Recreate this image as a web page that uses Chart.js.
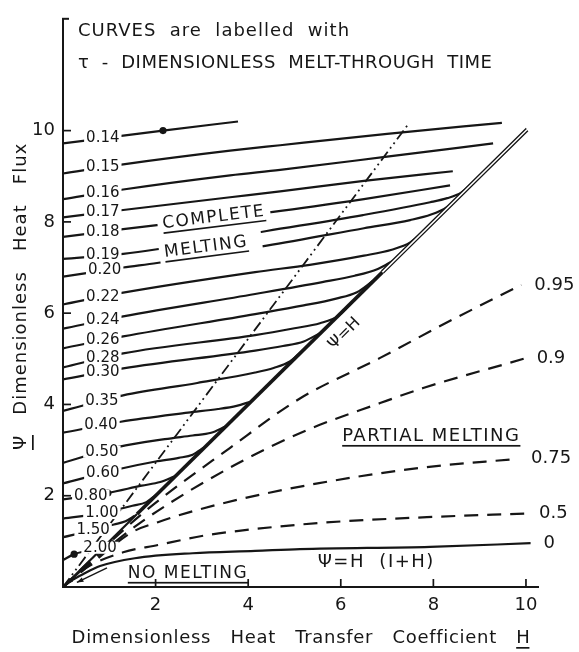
<!DOCTYPE html>
<html>
<head>
<meta charset="utf-8">
<title>Melt-through time</title>
<script src="https://cdn.jsdelivr.net/npm/chart.js"></script>
<style>
  body { margin: 0; background: #fff; }
  #meltChart { display: block; }
</style>
</head>
<body>
<canvas id="meltChart" width="579" height="652"></canvas>
<script>
// complete melting curves, labelled with tau; points are [H, Psi]
const tauLabels = ['0.14', '0.15', '0.16', '0.17', '0.18', '0.19', '0.20', '0.22', '0.24', '0.26',
                   '0.28', '0.30', '0.35', '0.40', '0.50', '0.60', '0.80', '1.00', '1.50', '2.00'];
const tau014 = [[0, 9.72], [1.3, 9.89], [2.16, 10.0], [3.78, 10.2]];
const tau015 = [[0, 9.06], [1.3, 9.26], [3.61, 9.56], [4.69, 9.68], [7.0, 9.93], [9.48, 10.17]];
const tau016 = [[0, 8.50], [1.3, 8.71], [3.61, 9.02], [4.69, 9.14], [7.0, 9.43], [9.29, 9.72]];
const tau017 = [[0, 8.10], [1.3, 8.26], [3.61, 8.54], [4.69, 8.67], [6.5, 8.9], [8.42, 9.11]];
const tau018 = [[0, 7.67], [1.3, 7.84], [2.03, 7.93], [4.54, 8.22], [6.5, 8.5], [8.36, 8.80]];
const tau019 = [[0, 7.19], [1.3, 7.30], [2.03, 7.40], [4.4, 7.80], [6.48, 8.15], [7.93, 8.43], [8.3, 8.52], [8.6, 8.64], [8.9, 8.9]];
const tau020 = [[0, 6.80], [1.3, 7.0], [2.03, 7.1], [4.4, 7.48], [6.5, 7.86], [7.5, 8.04], [7.95, 8.16], [8.3, 8.33], [8.6, 8.6]];
const tau022 = [[0, 6.19], [1.3, 6.45], [4.15, 6.9], [5.33, 7.06], [6.5, 7.26], [7.1, 7.39], [7.5, 7.55], [7.85, 7.86]];
const tau024 = [[0, 5.66], [1.3, 5.93], [4.15, 6.42], [5.6, 6.68], [6.3, 6.82], [6.8, 6.97], [7.15, 7.16]];
const tau026 = [[0, 5.23], [1.3, 5.49], [4.15, 5.98], [5.2, 6.17], [5.9, 6.32], [6.35, 6.46], [6.7, 6.71]];
const tau028 = [[0, 4.81], [1.3, 5.12], [4.15, 5.52], [5.0, 5.67], [5.55, 5.78], [5.95, 5.94], [6.25, 6.25]];
const tau030 = [[0, 4.55], [1.3, 4.79], [4.15, 5.18], [4.75, 5.28], [5.2, 5.38], [5.55, 5.56]];
const tau035 = [[0, 3.86], [1.3, 4.2], [2.9, 4.47], [4.15, 4.7], [4.55, 4.8], [4.9, 4.94], [5.15, 5.16]];
const tau040 = [[0, 3.38], [1.25, 3.62], [2.7, 3.82], [3.35, 3.9], [3.75, 3.97], [4.05, 4.06]];
const tau050 = [[0, 2.72], [1.2, 3.07], [2.2, 3.24], [2.8, 3.32], [3.2, 3.38], [3.5, 3.51]];
const tau060 = [[0, 2.27], [1.19, 2.58], [2.0, 2.75], [2.5, 2.83], [2.8, 2.9], [3.05, 3.06]];
const tau080 = [[0, 1.92], [0.6, 2.0], [0.97, 2.06], [1.7, 2.22], [2.1, 2.3], [2.4, 2.42]];
const tau100 = [[0, 1.50], [0.84, 1.62], [1.5, 1.78], [1.8, 1.86], [2.0, 2.01]];
const tau150 = [[0, 1.09], [0.65, 1.25], [1.1, 1.37], [1.35, 1.44], [1.55, 1.56]];
const tau200 = [[0, 0.59], [0.24, 0.72], [0.55, 0.8], [0.8, 0.86], [0.95, 0.96]];
const tauCurves = [tau014, tau015, tau016, tau017, tau018, tau019, tau020, tau022, tau024, tau026,
                   tau028, tau030, tau035, tau040, tau050, tau060, tau080, tau100, tau150, tau200];

// partial melting curves (dashed), the 0 curve is solid
const partialLabels = ['0.95', '0.9', '0.75', '0.5', '0'];
const partial095 = [[0, 0], [0.8, 0.78], [1.8, 1.68], [3.61, 3.05], [5.1, 4.12], [6.85, 5.02], [8.3, 5.8], [9.9, 6.62]];
const partial090 = [[0, 0], [0.8, 0.72], [1.8, 1.5], [3.76, 2.7], [5.3, 3.45], [6.85, 4.03], [7.78, 4.36], [9.95, 5.0]];
const partial075 = [[0, 0], [0.6, 0.5], [1.49, 1.2], [2.05, 1.42], [2.7, 1.63], [3.89, 1.94], [5.5, 2.27], [7.71, 2.61], [9.83, 2.81]];
const partial050 = [[0, 0], [0.5, 0.42], [1.3, 0.76], [2.05, 0.92], [3.07, 1.13], [3.71, 1.22], [5.5, 1.4], [7.86, 1.53], [10.0, 1.61]];
const noMelting = [[0, 0], [0.2, 0.15], [0.43, 0.28], [0.8, 0.46], [1.55, 0.63], [2.8, 0.74], [4.15, 0.79], [5.12, 0.83], [7.93, 0.88], [10.1, 0.96]];

// psi = H line and the dash-dot line
const psiHThin = [[0, 0], [1.6, 1.6]];
const psiHThick = [[1.6, 1.6], [6.9, 6.9]];
const psiHDouble = [[6.9, 6.9], [10.02, 10.02]];
const dashDotLine = [[0, 0], [7.45, 10.13]];
const curveDots = [[2.16, 10.0], [0.97, 2.06], [0.24, 0.72]];
const originArrows = [[[0.55, 0.5], [0.08, 0.06]], [[0.95, 0.42], [0.3, 0.1]]];

const xTickValues = [2, 4, 6, 8, 10];
const yTickValues = [2, 4, 6, 8, 10];

// layout of the texts (not data)
const tauLabelAt = [0.86, 0.86, 0.86, 0.86, 0.86, 0.86, 0.9, 0.86, 0.86, 0.86,
                    0.86, 0.86, 0.84, 0.82, 0.84, 0.86, 0.6, 0.84, 0.65, 0.8];
const notes = [
  { text: 'COMPLETE', x: 2.16, y: 7.86, angle: -7, size: 17, underline: true, bg: true },
  { text: 'MELTING', x: 2.2, y: 7.23, angle: -7.4, size: 17, underline: true, bg: true, extra: 9 },
  { text: 'PARTIAL MELTING', x: 6.03, y: 3.2, angle: 0, size: 18, underline: true },
  { text: 'NO MELTING', x: 1.4, y: 0.2, angle: 0, size: 17, underline: true },
  { text: 'Ψ=H  (I+H)', x: 5.5, y: 0.44, angle: 0, size: 18 }
];

const ink = '#161616';
const FAM = '"DejaVu Sans", sans-serif';

function pts(arr) { return arr.map(([x, y]) => ({ x, y })); }
function curve(arr, extra) {
  return Object.assign({
    data: pts(arr), showLine: true, pointRadius: 0, borderColor: ink, borderWidth: 2.2,
    fill: false, cubicInterpolationMode: 'monotone', order: 10
  }, extra || {});
}
function interp(c, xv) {
  for (let i = 1; i < c.length; i++) {
    if (xv <= c[i][0]) {
      const t = (xv - c[i - 1][0]) / (c[i][0] - c[i - 1][0]);
      return c[i - 1][1] + t * (c[i][1] - c[i - 1][1]);
    }
  }
  return c[c.length - 1][1];
}

function drawText(ctx, s, x, y, o) {
  ctx.save();
  ctx.translate(x, y);
  if (o.angle) ctx.rotate(o.angle * Math.PI / 180);
  ctx.font = o.font;
  ctx.letterSpacing = o.spacing || '0px';
  ctx.textAlign = o.align || 'left';
  ctx.textBaseline = o.baseline || 'alphabetic';
  const w = ctx.measureText(s).width;
  const x0 = o.align === 'center' ? -w / 2 : 0;
  if (o.bg) {
    ctx.fillStyle = '#fff';
    ctx.fillRect(x0 - o.bg[0], o.bg[1], w + o.bg[0] + (o.bg[3] || o.bg[0]), o.bg[2]);
  }
  ctx.fillStyle = ink;
  ctx.fillText(s, 0, 0);
  if (o.underline !== undefined) ctx.fillRect(x0, o.underline, o.ulen || w, 1.7);
  ctx.restore();
  return w;
}

function line(ctx, x1, y1, x2, y2, w) {
  ctx.beginPath();
  ctx.moveTo(x1, y1);
  ctx.lineTo(x2, y2);
  ctx.lineWidth = w || 2;
  ctx.strokeStyle = ink;
  ctx.stroke();
}

const annotate = {
  id: 'annotate',
  afterDatasetsDraw(chart) {
    const { ctx, chartArea: a, scales: { x, y } } = chart;
    const px = v => x.getPixelForValue(v), py = v => y.getPixelForValue(v);

    // inward tick marks
    xTickValues.forEach(v => line(ctx, px(v), a.bottom, px(v), a.bottom - 8, 1.7));
    yTickValues.forEach(v => line(ctx, a.left, py(v), a.left + 8, py(v), 1.7));
    line(ctx, a.left - 1, a.top, a.left + 6, a.top, 2);

    // arrows towards the origin
    originArrows.forEach(([p, q]) => {
      const x1 = px(p[0]), y1 = py(p[1]), x2 = px(q[0]), y2 = py(q[1]);
      line(ctx, x1, y1, x2, y2, 1.4);
      const ang = Math.atan2(y2 - y1, x2 - x1);
      ctx.beginPath();
      ctx.moveTo(x2, y2);
      ctx.lineTo(x2 - 7 * Math.cos(ang - 0.35), y2 - 7 * Math.sin(ang - 0.35));
      ctx.lineTo(x2 - 7 * Math.cos(ang + 0.35), y2 - 7 * Math.sin(ang + 0.35));
      ctx.closePath();
      ctx.fillStyle = ink;
      ctx.fill();
    });

    // tau labels sitting on their curves
    tauCurves.forEach((c, i) => {
      const lx = tauLabelAt[i];
      drawText(ctx, tauLabels[i], px(lx), py(interp(c, lx)), {
        font: '15px ' + FAM, align: 'center', baseline: 'middle', bg: [2, -6, 12]
      });
    });

    // right-hand labels of the partial melting curves
    [partial095, partial090, partial075, partial050, noMelting].forEach((c, i) => {
      const last = c[c.length - 1];
      drawText(ctx, partialLabels[i], px(last[0]) + 13, py(last[1]), {
        font: '18px ' + FAM, baseline: 'middle'
      });
    });

    // region notes
    notes.forEach(n => {
      drawText(ctx, n.text, px(n.x), py(n.y), {
        font: n.size + 'px ' + FAM, angle: n.angle, spacing: '1.5px',
        underline: n.underline ? 4 : undefined,
        bg: n.bg ? [5, -15, 22, (n.extra || 0) + 5] : null
      });
    });

    // psi = H along the line
    drawText(ctx, 'Ψ=H', px(6.08), py(5.55), { font: '16px ' + FAM, angle: -45, align: 'center', baseline: 'middle' });

    // heading
    drawText(ctx, 'CURVES  are  labelled  with', 78, 36, { font: '18px ' + FAM, spacing: '1px' });
    drawText(ctx, 'τ  -  DIMENSIONLESS  MELT-THROUGH  TIME', 78, 68, { font: '18px ' + FAM, spacing: '0.5px' });

    // axis titles
    const xt = 'Dimensionless   Heat   Transfer   Coefficient   H';
    ctx.save();
    ctx.font = '18px ' + FAM;
    ctx.letterSpacing = '0.7px';
    const xw = ctx.measureText(xt).width;
    const hw = ctx.measureText('H').width;
    ctx.restore();
    drawText(ctx, xt, 301 - xw / 2, 643, { font: '18px ' + FAM, spacing: '0.7px' });
    ctx.fillStyle = ink;
    ctx.fillRect(301 + xw / 2 - hw, 647, hw - 1, 1.7);

    drawText(ctx, 'Ψ   Dimensionless   Heat   Flux', 26, 450, {
      font: '18px ' + FAM, angle: -90, spacing: '1px', underline: 6, ulen: 15
    });
  }
};

const datasets = [];
tauCurves.forEach(c => datasets.push(curve(c)));
[partial095, partial090, partial075, partial050].forEach(c =>
  datasets.push(curve(c, { borderDash: [14, 9] })));
datasets.push(curve(noMelting));
datasets.push(curve(dashDotLine, { borderWidth: 1.8, borderDash: [11, 4, 1.8, 4, 1.8, 4], cubicInterpolationMode: 'default' }));
datasets.push(curve(psiHThin, { borderWidth: 2.2 }));
datasets.push(curve(psiHThick, { borderWidth: 3.6 }));
datasets.push(curve(psiHDouble, { borderWidth: 4.2 }));
datasets.push(curve(psiHDouble, { borderWidth: 1.5, borderColor: '#fff', order: 0 }));
datasets.push({ data: pts(curveDots), showLine: false, pointRadius: 3.6, pointBackgroundColor: ink, pointBorderWidth: 0, order: 1 });

new Chart(document.getElementById('meltChart'), {
  type: 'scatter',
  data: { datasets },
  options: {
    responsive: false,
    animation: false,
    layout: { padding: { left: 0, right: 41, top: 15, bottom: 0 } },
    plugins: { legend: { display: false }, tooltip: { enabled: false } },
    scales: {
      x: {
        type: 'linear', min: 0, max: 10.26,
        afterFit: s => { s.height = 65; },
        afterBuildTicks: s => { s.ticks = xTickValues.map(v => ({ value: v })); },
        grid: { display: false, drawTicks: false },
        border: { color: ink, width: 2 },
        ticks: { color: ink, font: { family: FAM, size: 18 }, padding: 8 }
      },
      y: {
        type: 'linear', min: 0, max: 12.45,
        afterFit: s => { s.width = 63; },
        afterBuildTicks: s => { s.ticks = yTickValues.map(v => ({ value: v })); },
        grid: { display: false, drawTicks: false },
        border: { color: ink, width: 2 },
        ticks: { color: ink, font: { family: FAM, size: 18 }, padding: 8 }
      }
    }
  },
  plugins: [annotate]
});
</script>
</body>
</html>
